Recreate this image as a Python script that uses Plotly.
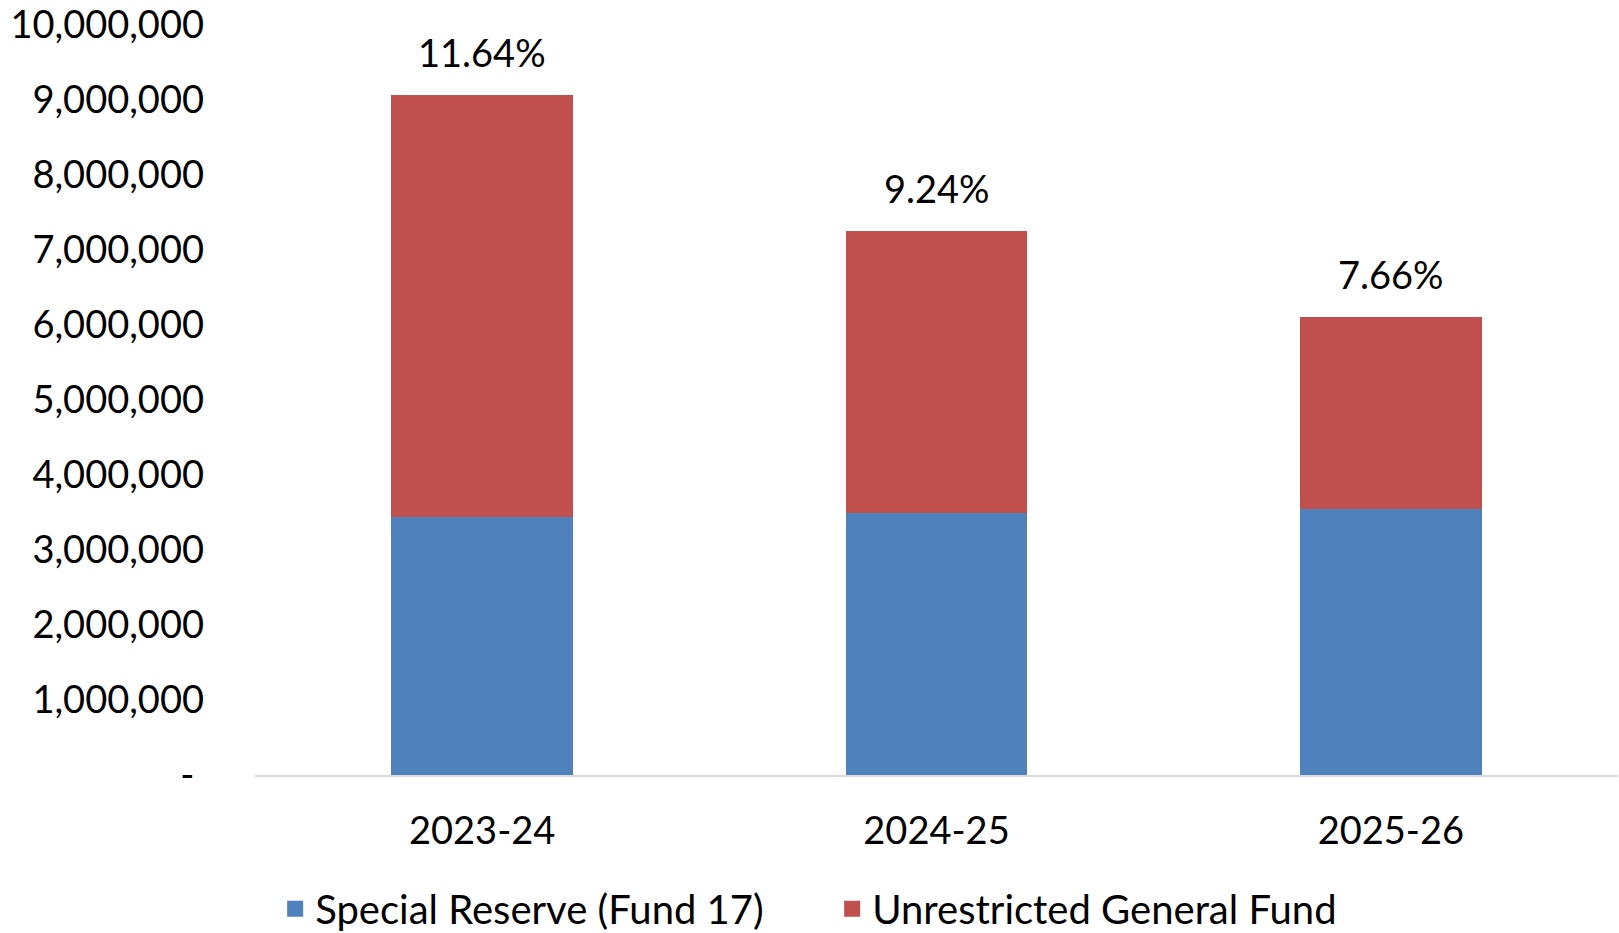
import plotly.graph_objects as go

# values
years = ["2023-24", "2024-25", "2025-26"]
special_reserve = [3440000, 3490000, 3550000]
unrestricted_gf = [5625000, 3760000, 2560000]
reserve_pct = ["11.64%", "9.24%", "7.66%"]

y_ticks = [0, 1000000, 2000000, 3000000, 4000000, 5000000,
           6000000, 7000000, 8000000, 9000000, 10000000]
y_tick_text = ["-\u00a0"] + [f"{v:,}" for v in y_ticks[1:]]

FONT = "Lato"
BLUE = "#4F81BD"
RED = "#C0504D"

fig = go.Figure()
fig.add_trace(go.Bar(
    name="Special Reserve (Fund 17)",
    x=years, y=special_reserve,
    marker=dict(color=BLUE, line=dict(width=0)),
    showlegend=False,
))
fig.add_trace(go.Bar(
    name="Unrestricted General Fund",
    x=years, y=unrestricted_gf,
    marker=dict(color=RED, line=dict(width=0)),
    showlegend=False,
))

# legend-only entries so the swatches are bigger squares
for name, col in [("Special Reserve (Fund 17)", BLUE),
                  ("Unrestricted General Fund", RED)]:
    fig.add_trace(go.Scatter(
        x=[None], y=[None], name=name, mode="markers",
        marker=dict(symbol="square", size=23, color=col),
    ))

# percentage labels above each stack
totals = [a + b for a, b in zip(special_reserve, unrestricted_gf)]
for yr, tot, pct in zip(years, totals, reserve_pct):
    fig.add_annotation(
        x=yr, y=tot, text=pct, showarrow=False,
        yanchor="bottom", yshift=18,
        font=dict(family=FONT, size=38, color="black"),
    )

fig.update_layout(
    width=1619, height=933,
    barmode="stack",
    bargap=0.6,
    plot_bgcolor="white",
    paper_bgcolor="white",
    font=dict(family=FONT, size=38, color="black"),
    margin=dict(l=255, r=1, t=25, b=158),
    legend=dict(
        orientation="h",
        xref="container", yref="container",
        x=0.514, xanchor="center",
        y=0.026, yanchor="middle",
        font=dict(family=FONT, size=40),
        itemwidth=30,
        entrywidth=512,
        traceorder="normal",
    ),
)

fig.update_xaxes(
    showline=True, linecolor="#D9D9D9", linewidth=2,
    showgrid=False, ticks="",
    ticklabelstandoff=21,
)
fig.update_yaxes(
    range=[0, 10000000],
    tickvals=y_ticks, ticktext=y_tick_text,
    showgrid=False, zeroline=False, showline=False,
    ticks="", ticklabelstandoff=50,
)

# drop the default body margin so the figure fills the window
fig.write_html(
    "out.html",
    config={"displayModeBar": False},
    post_script="document.body.style.margin='0';",
)
